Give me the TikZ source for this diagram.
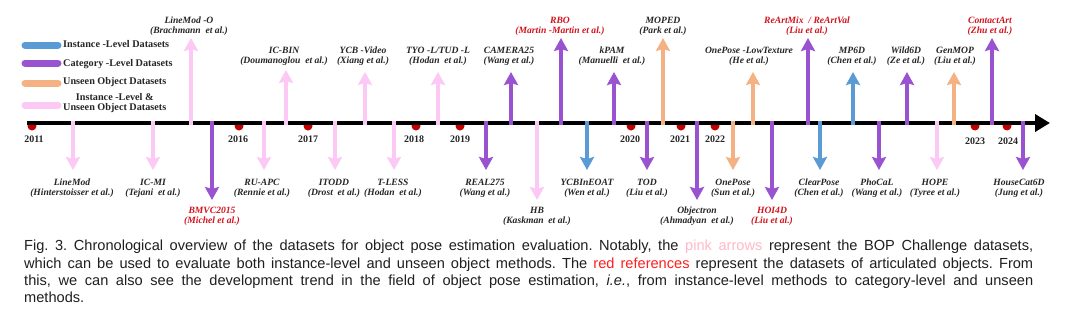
\documentclass[tikz,border=0pt]{standalone}
\usepackage{fontspec}
\setmainfont{Liberation Serif}
\newfontfamily\capfont{Liberation Sans}
\usetikzlibrary{arrows.meta}
\definecolor{cblue}{RGB}{91,155,213}
\definecolor{cpurple}{RGB}{153,82,208}
\definecolor{corange}{RGB}{244,177,131}
\definecolor{cpink}{RGB}{252,200,244}
\definecolor{cdot}{RGB}{192,0,0}
\definecolor{cred}{RGB}{210,20,30}
\definecolor{cappink}{RGB}{255,185,200}
\definecolor{capred}{RGB}{255,30,30}
\newcommand\DSarrow[8]{% name, x, start y, tip y, style, label x, label y, text
  \coordinate (#1s) at (#2,#3);
  \coordinate (#1e) at (#2,#4);
  \draw[ds,#5] (#1s) -- (#1e);
  \node[lab] (#1l) at (#6,#7) {#8};}
\begin{document}
\begin{tikzpicture}[x=1pt,y=-1pt,
  ds/.style={line width=3.2pt,-{Stealth[length=13pt,width=14pt,inset=2pt]}},
  lab/.style={font=\fontsize{9.6}{10}\selectfont\bfseries\itshape,align=center,inner sep=0pt,text=black!85},
  yearlab/.style={font=\fontsize{10}{10}\selectfont\bfseries,inner sep=0pt,text=black!85},
  legline/.style={line width=7pt,line cap=round},
  legtext/.style={font=\fontsize{10.2}{10.5}\selectfont\bfseries,inner sep=0pt,anchor=west,align=center,text=black!85},
  yeardot/.style={fill=cdot,draw=none}]
\fill[white] (0,0) rectangle (1080,319);
\useasboundingbox (0,0) rectangle (1080,319);
% legend
\coordinate (lg1a) at (25,45); \coordinate (lg1b) at (58,45);
\coordinate (lg2a) at (25,63); \coordinate (lg2b) at (58,63);
\coordinate (lg3a) at (25,83); \coordinate (lg3b) at (58,83);
\coordinate (lg4a) at (25,105); \coordinate (lg4b) at (58,105);
\draw[legline,cblue] (lg1a) -- (lg1b);
\draw[legline,cpurple] (lg2a) -- (lg2b);
\draw[legline,corange] (lg3a) -- (lg3b);
\draw[legline,cpink] (lg4a) -- (lg4b);
\node[legtext] (lt1) at (63,44) {Instance -Level Datasets};
\node[legtext] (lt2) at (63,64) {Category -Level Datasets};
\node[legtext] (lt3) at (63,82) {Unseen Object Datasets};
\node[legtext] (lt4) at (63,103) {Instance -Level \&\\Unseen Object Datasets};
% year dots
\foreach \n/\x in {a/32,b/239,c/308,d/416,e/460,f/631,g/681,h/715,i/975,j/1007}
  \fill[yeardot] (\x,126) circle (4.5);
% axis
\coordinate (ax0) at (27,123);
\coordinate (ax1) at (1050,123);
\draw[line width=4pt,-{Triangle[length=15pt,width=17pt]}] (ax0) -- (ax1);
% years
\node[yearlab] (y2011) at (34,139) {2011};
\node[yearlab] (y2016) at (238,139) {2016};
\node[yearlab] (y2017) at (308,139) {2017};
\node[yearlab] (y2018) at (414,139) {2018};
\node[yearlab] (y2019) at (460,139) {2019};
\node[yearlab] (y2020) at (630,139) {2020};
\node[yearlab] (y2021) at (680,139) {2021};
\node[yearlab] (y2022) at (715,139) {2022};
\node[yearlab] (y2023) at (975,141) {2023};
\node[yearlab] (y2024) at (1008,141) {2024};
% downward arrows
\DSarrow{linemod}{73}{121}{170}{cpink}{72}{188}{LineMod\\(Hinterstoisser et al.)}
\DSarrow{icmi}{153}{121}{170}{cpink}{153}{188}{IC-MI\\(Tejani~ et al.)}
\DSarrow{bmvc}{212}{121}{200}{cpurple}{212}{216}{\color{cred}BMVC2015\\\color{cred}(Michel et al.)}
\DSarrow{ruapc}{264}{121}{170}{cpink}{262}{188}{RU-APC\\(Rennie et al.)}
\DSarrow{itodd}{335}{121}{170}{cpink}{334}{188}{ITODD\\(Drost~ et al.)}
\DSarrow{tless}{394}{121}{170}{cpink}{393}{188}{T-LESS\\(Hodan~ et al.)}
\DSarrow{real}{486}{121}{170}{cpurple}{485}{188}{REAL275\\(Wang et al.)}
\DSarrow{hb}{537}{121}{200}{cpink}{537}{216}{HB\\(Kaskman~ et al.)}
\DSarrow{ycbin}{587}{121}{170}{cblue}{587}{188}{YCBInEOAT\\(Wen et al.)}
\DSarrow{tod}{647}{121}{170}{cpurple}{647}{188}{TOD\\(Liu et al.)}
\DSarrow{objectron}{697}{121}{200}{cpurple}{697}{216}{Objectron\\(Ahmadyan~ et al.)}
\DSarrow{onepose}{733}{121}{170}{corange}{733}{188}{OnePose\\(Sun et al.)}
\DSarrow{hoi}{772}{121}{200}{cpurple}{772}{216}{\color{cred}HOI4D\\\color{cred}(Liu et al.)}
\DSarrow{clearpose}{820}{121}{170}{cblue}{819}{188}{ClearPose\\(Chen et al.)}
\DSarrow{phocal}{879}{121}{170}{cpurple}{877}{188}{PhoCaL\\(Wang et al.)}
\DSarrow{hope}{937}{121}{170}{cpink}{935}{188}{HOPE\\(Tyree et al.)}
\DSarrow{housecat}{1023}{121}{170}{cpurple}{1019}{188}{HouseCat6D\\(Jung et al.)}
% upward arrows
\DSarrow{linemodo}{191}{125}{38}{cpink}{189}{26}{LineMod -O\\(Brachmann~ et al.)}
\DSarrow{icbin}{286}{125}{70}{cpink}{284}{56}{IC-BIN\\(Doumanoglou~ et al.)}
\DSarrow{ycbv}{365}{125}{72}{cpink}{363}{56}{YCB -Video\\(Xiang et al.)}
\DSarrow{tyol}{438}{125}{72}{cpink}{438}{56}{TYO -L/TUD -L\\(Hodan~ et al.)}
\DSarrow{camera}{511}{125}{72}{cpurple}{509}{56}{CAMERA25\\(Wang et al.)}
\DSarrow{rbo}{561}{125}{38}{cpurple}{560}{26}{\color{cred}RBO\\\color{cred}(Martin -Martin et al.)}
\DSarrow{kpam}{614}{125}{72}{cpurple}{612}{56}{kPAM\\(Manuelli~ et al.)}
\DSarrow{moped}{663}{125}{38}{corange}{663}{26}{MOPED\\(Park et al.)}
\DSarrow{oplt}{753}{125}{72}{corange}{749}{56}{OnePose -LowTexture\\(He et al.)}
\DSarrow{reart}{808}{125}{38}{cpurple}{807}{26}{\color{cred}ReArtMix~ / ReArtVal\\\color{cred}(Liu et al.)}
\DSarrow{mp6d}{853}{125}{72}{cblue}{852}{56}{MP6D\\(Chen et al.)}
\DSarrow{wild}{907}{125}{72}{cpurple}{906}{56}{Wild6D\\(Ze et al.)}
\DSarrow{genmop}{954}{125}{72}{corange}{955}{56}{GenMOP\\(Liu et al.)}
\DSarrow{contact}{992}{125}{38}{cpurple}{990}{26}{\color{cred}ContactArt\\\color{cred}(Zhu et al.)}
% caption
\node[anchor=north west,inner sep=0pt,text width=1009pt,align=justify,
  font=\capfont\fontsize{14.6}{17.4}\selectfont,text=black!88] (caption) at (24,240)
{\frenchspacing\hyphenpenalty=10000 Fig. 3. Chronological overview of the datasets for object pose estimation evaluation. Notably, the \textcolor{cappink}{pink arrows} represent the BOP Challenge datasets,\linebreak
which can be used to evaluate both instance-level and unseen object methods. The \textcolor{capred}{red references} represent the datasets of articulated objects. From\linebreak
this, we can also see the development trend in the field of object pose estimation, \textit{i.e.}, from instance-level methods to category-level and unseen\linebreak
methods.};
\end{tikzpicture}
\end{document}
